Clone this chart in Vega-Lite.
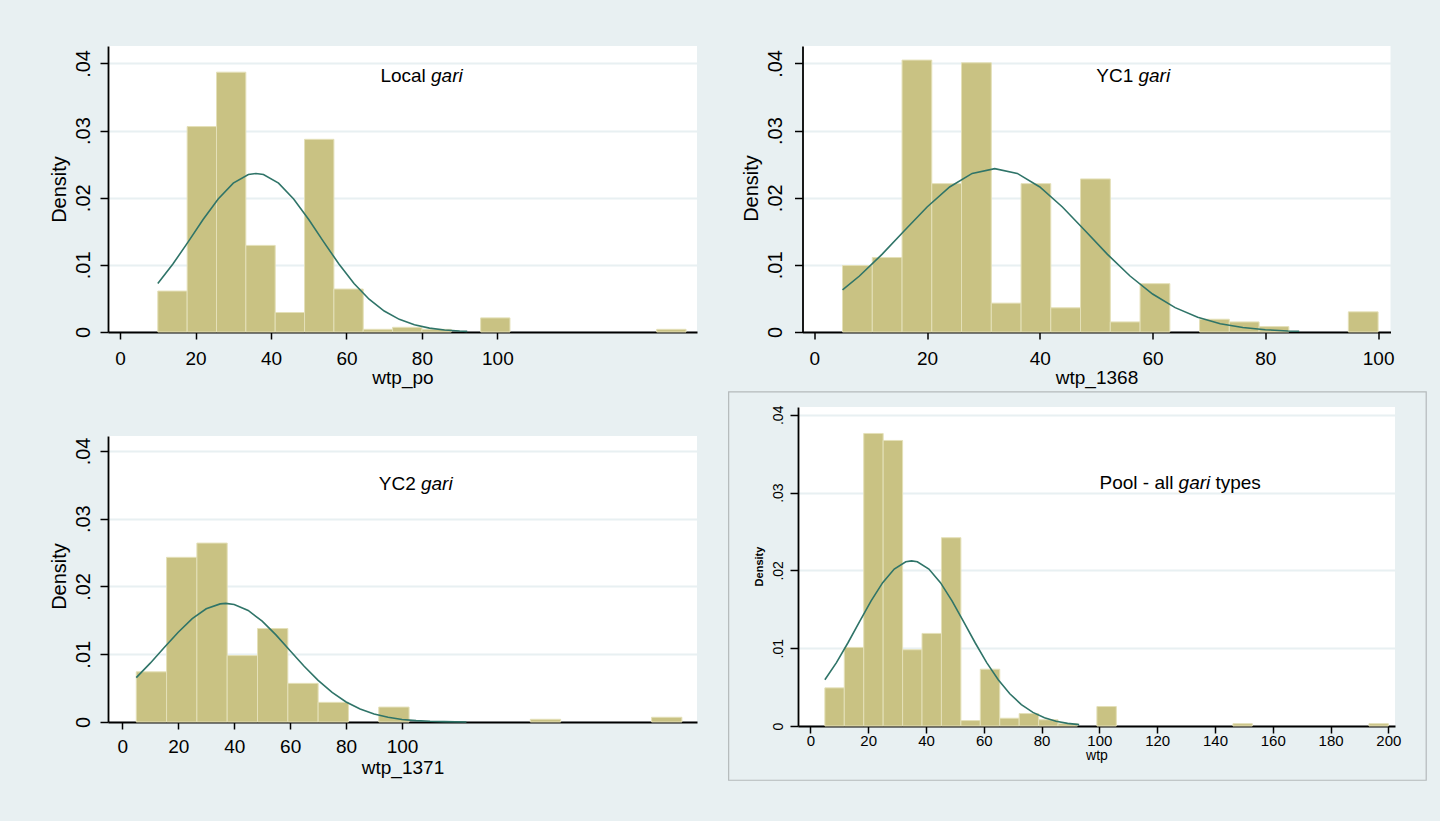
{
  "$schema": "https://vega.github.io/schema/vega-lite/v6.json",
  "background": "#e8f0f2",
  "padding": {"left": 49, "top": 46, "right": 13, "bottom": 40},
  "config": {
    "font": "Liberation Sans",
    "view": {"stroke": null, "fill": "#ffffff"},
    "axis": {
      "domainColor": "#000000", "domainWidth": 1.8,
      "tickColor": "#000000", "tickWidth": 1.5,
      "labelColor": "#000000", "titleColor": "#000000",
      "labelFont": "Liberation Sans", "titleFont": "Liberation Sans",
      "titleFontWeight": "normal",
      "gridColor": "#e8f0f2", "gridWidth": 2,
      "labelOverlap": false, "labelFlush": false
    },
    "axisX": {"grid": false, "zindex": 1},
    "text": {"font": "Liberation Sans", "fontSize": 19, "baseline": "alphabetic", "color": "#000000"}
  },
  "datasets": {
    "note": [{}],
    "bars": [
      {"panel": "wtp_po", "lo": 10, "hi": 17.78, "density": 0.0061},
      {"panel": "wtp_po", "lo": 17.78, "hi": 25.56, "density": 0.0306},
      {"panel": "wtp_po", "lo": 25.56, "hi": 33.33, "density": 0.0387},
      {"panel": "wtp_po", "lo": 33.33, "hi": 41.11, "density": 0.0129},
      {"panel": "wtp_po", "lo": 41.11, "hi": 48.89, "density": 0.0029},
      {"panel": "wtp_po", "lo": 48.89, "hi": 56.67, "density": 0.0287},
      {"panel": "wtp_po", "lo": 56.67, "hi": 64.44, "density": 0.0064},
      {"panel": "wtp_po", "lo": 64.44, "hi": 72.22, "density": 0.0004},
      {"panel": "wtp_po", "lo": 72.22, "hi": 80, "density": 0.0007},
      {"panel": "wtp_po", "lo": 80, "hi": 87.78, "density": 0.0004},
      {"panel": "wtp_po", "lo": 95.56, "hi": 103.33, "density": 0.0021},
      {"panel": "wtp_po", "lo": 142.22, "hi": 150, "density": 0.0004},

      {"panel": "wtp_1368", "lo": 5, "hi": 10.28, "density": 0.0099},
      {"panel": "wtp_1368", "lo": 10.28, "hi": 15.56, "density": 0.0111},
      {"panel": "wtp_1368", "lo": 15.56, "hi": 20.83, "density": 0.0405},
      {"panel": "wtp_1368", "lo": 20.83, "hi": 26.11, "density": 0.0221},
      {"panel": "wtp_1368", "lo": 26.11, "hi": 31.39, "density": 0.0401},
      {"panel": "wtp_1368", "lo": 31.39, "hi": 36.67, "density": 0.0043},
      {"panel": "wtp_1368", "lo": 36.67, "hi": 41.94, "density": 0.0221},
      {"panel": "wtp_1368", "lo": 41.94, "hi": 47.22, "density": 0.0036},
      {"panel": "wtp_1368", "lo": 47.22, "hi": 52.5, "density": 0.0228},
      {"panel": "wtp_1368", "lo": 52.5, "hi": 57.78, "density": 0.0015},
      {"panel": "wtp_1368", "lo": 57.78, "hi": 63.06, "density": 0.0072},
      {"panel": "wtp_1368", "lo": 68.33, "hi": 73.61, "density": 0.0019},
      {"panel": "wtp_1368", "lo": 73.61, "hi": 78.89, "density": 0.0015},
      {"panel": "wtp_1368", "lo": 78.89, "hi": 84.17, "density": 0.0008},
      {"panel": "wtp_1368", "lo": 94.72, "hi": 100, "density": 0.003},

      {"panel": "wtp_1371", "lo": 5, "hi": 15.83, "density": 0.0074},
      {"panel": "wtp_1371", "lo": 15.83, "hi": 26.67, "density": 0.0243},
      {"panel": "wtp_1371", "lo": 26.67, "hi": 37.5, "density": 0.0264},
      {"panel": "wtp_1371", "lo": 37.5, "hi": 48.33, "density": 0.0098},
      {"panel": "wtp_1371", "lo": 48.33, "hi": 59.17, "density": 0.0138},
      {"panel": "wtp_1371", "lo": 59.17, "hi": 70, "density": 0.0057},
      {"panel": "wtp_1371", "lo": 70, "hi": 80.83, "density": 0.0029},
      {"panel": "wtp_1371", "lo": 91.67, "hi": 102.5, "density": 0.0022},
      {"panel": "wtp_1371", "lo": 145.83, "hi": 156.67, "density": 0.0004},
      {"panel": "wtp_1371", "lo": 189.17, "hi": 200, "density": 0.0007},

      {"panel": "wtp", "lo": 5, "hi": 11.72, "density": 0.0049},
      {"panel": "wtp", "lo": 11.72, "hi": 18.45, "density": 0.0101},
      {"panel": "wtp", "lo": 18.45, "hi": 25.17, "density": 0.0376},
      {"panel": "wtp", "lo": 25.17, "hi": 31.9, "density": 0.0367},
      {"panel": "wtp", "lo": 31.9, "hi": 38.62, "density": 0.0098},
      {"panel": "wtp", "lo": 38.62, "hi": 45.34, "density": 0.0119},
      {"panel": "wtp", "lo": 45.34, "hi": 52.07, "density": 0.0242},
      {"panel": "wtp", "lo": 52.07, "hi": 58.79, "density": 0.0007},
      {"panel": "wtp", "lo": 58.79, "hi": 65.52, "density": 0.0073},
      {"panel": "wtp", "lo": 65.52, "hi": 72.24, "density": 0.001},
      {"panel": "wtp", "lo": 72.24, "hi": 78.97, "density": 0.0016},
      {"panel": "wtp", "lo": 78.97, "hi": 85.69, "density": 0.0008},
      {"panel": "wtp", "lo": 85.69, "hi": 92.41, "density": 0.0003},
      {"panel": "wtp", "lo": 99.14, "hi": 105.86, "density": 0.0025},
      {"panel": "wtp", "lo": 146.21, "hi": 152.93, "density": 0.0003},
      {"panel": "wtp", "lo": 193.28, "hi": 200, "density": 0.0003}
    ],
    "curve": [
      {"panel": "wtp_po", "x": 10, "y": 0.00723},
      {"panel": "wtp_po", "x": 14, "y": 0.01012},
      {"panel": "wtp_po", "x": 18, "y": 0.01339},
      {"panel": "wtp_po", "x": 22, "y": 0.01675},
      {"panel": "wtp_po", "x": 26, "y": 0.01982},
      {"panel": "wtp_po", "x": 30, "y": 0.02217},
      {"panel": "wtp_po", "x": 34, "y": 0.02345},
      {"panel": "wtp_po", "x": 36, "y": 0.02361},
      {"panel": "wtp_po", "x": 38, "y": 0.02345},
      {"panel": "wtp_po", "x": 42, "y": 0.02217},
      {"panel": "wtp_po", "x": 46, "y": 0.01982},
      {"panel": "wtp_po", "x": 50, "y": 0.01675},
      {"panel": "wtp_po", "x": 54, "y": 0.01339},
      {"panel": "wtp_po", "x": 58, "y": 0.01012},
      {"panel": "wtp_po", "x": 62, "y": 0.00723},
      {"panel": "wtp_po", "x": 66, "y": 0.00488},
      {"panel": "wtp_po", "x": 70, "y": 0.00312},
      {"panel": "wtp_po", "x": 74, "y": 0.00188},
      {"panel": "wtp_po", "x": 78, "y": 0.00108},
      {"panel": "wtp_po", "x": 82, "y": 0.00058},
      {"panel": "wtp_po", "x": 86, "y": 0.0003},
      {"panel": "wtp_po", "x": 90, "y": 0.00014},
      {"panel": "wtp_po", "x": 92, "y": 0.0001},

      {"panel": "wtp_1368", "x": 5, "y": 0.00627},
      {"panel": "wtp_1368", "x": 8, "y": 0.00834},
      {"panel": "wtp_1368", "x": 12, "y": 0.01157},
      {"panel": "wtp_1368", "x": 16, "y": 0.01512},
      {"panel": "wtp_1368", "x": 20, "y": 0.01862},
      {"panel": "wtp_1368", "x": 24, "y": 0.0216},
      {"panel": "wtp_1368", "x": 28, "y": 0.02362},
      {"panel": "wtp_1368", "x": 32, "y": 0.02433},
      {"panel": "wtp_1368", "x": 36, "y": 0.02362},
      {"panel": "wtp_1368", "x": 40, "y": 0.0216},
      {"panel": "wtp_1368", "x": 44, "y": 0.01862},
      {"panel": "wtp_1368", "x": 48, "y": 0.01512},
      {"panel": "wtp_1368", "x": 52, "y": 0.01157},
      {"panel": "wtp_1368", "x": 56, "y": 0.00834},
      {"panel": "wtp_1368", "x": 60, "y": 0.00566},
      {"panel": "wtp_1368", "x": 64, "y": 0.00363},
      {"panel": "wtp_1368", "x": 68, "y": 0.00219},
      {"panel": "wtp_1368", "x": 72, "y": 0.00124},
      {"panel": "wtp_1368", "x": 76, "y": 0.00066},
      {"panel": "wtp_1368", "x": 80, "y": 0.00034},
      {"panel": "wtp_1368", "x": 84, "y": 0.00016},
      {"panel": "wtp_1368", "x": 86, "y": 0.00011},

      {"panel": "wtp_1371", "x": 5, "y": 0.00654},
      {"panel": "wtp_1371", "x": 10, "y": 0.00868},
      {"panel": "wtp_1371", "x": 15, "y": 0.01099},
      {"panel": "wtp_1371", "x": 20, "y": 0.01325},
      {"panel": "wtp_1371", "x": 25, "y": 0.01524},
      {"panel": "wtp_1371", "x": 30, "y": 0.0167},
      {"panel": "wtp_1371", "x": 35, "y": 0.01743},
      {"panel": "wtp_1371", "x": 37, "y": 0.0175},
      {"panel": "wtp_1371", "x": 40, "y": 0.01735},
      {"panel": "wtp_1371", "x": 45, "y": 0.01646},
      {"panel": "wtp_1371", "x": 50, "y": 0.01488},
      {"panel": "wtp_1371", "x": 55, "y": 0.01282},
      {"panel": "wtp_1371", "x": 60, "y": 0.01052},
      {"panel": "wtp_1371", "x": 65, "y": 0.00823},
      {"panel": "wtp_1371", "x": 70, "y": 0.00614},
      {"panel": "wtp_1371", "x": 75, "y": 0.00436},
      {"panel": "wtp_1371", "x": 80, "y": 0.00296},
      {"panel": "wtp_1371", "x": 85, "y": 0.00191},
      {"panel": "wtp_1371", "x": 90, "y": 0.00117},
      {"panel": "wtp_1371", "x": 95, "y": 0.00069},
      {"panel": "wtp_1371", "x": 100, "y": 0.00038},
      {"panel": "wtp_1371", "x": 105, "y": 0.0002},
      {"panel": "wtp_1371", "x": 110, "y": 0.0001},
      {"panel": "wtp_1371", "x": 115, "y": 0.00005},
      {"panel": "wtp_1371", "x": 123, "y": 0.00001},

      {"panel": "wtp", "x": 5, "y": 0.00594},
      {"panel": "wtp", "x": 9, "y": 0.00815},
      {"panel": "wtp", "x": 13, "y": 0.0107},
      {"panel": "wtp", "x": 17, "y": 0.01342},
      {"panel": "wtp", "x": 21, "y": 0.01608},
      {"panel": "wtp", "x": 25, "y": 0.01842},
      {"panel": "wtp", "x": 29, "y": 0.02017},
      {"panel": "wtp", "x": 33, "y": 0.0211},
      {"panel": "wtp", "x": 35, "y": 0.02122},
      {"panel": "wtp", "x": 37, "y": 0.0211},
      {"panel": "wtp", "x": 41, "y": 0.02017},
      {"panel": "wtp", "x": 45, "y": 0.01842},
      {"panel": "wtp", "x": 49, "y": 0.01608},
      {"panel": "wtp", "x": 53, "y": 0.01342},
      {"panel": "wtp", "x": 57, "y": 0.0107},
      {"panel": "wtp", "x": 61, "y": 0.00815},
      {"panel": "wtp", "x": 65, "y": 0.00594},
      {"panel": "wtp", "x": 69, "y": 0.00414},
      {"panel": "wtp", "x": 73, "y": 0.00275},
      {"panel": "wtp", "x": 77, "y": 0.00175},
      {"panel": "wtp", "x": 81, "y": 0.00106},
      {"panel": "wtp", "x": 85, "y": 0.00062},
      {"panel": "wtp", "x": 89, "y": 0.00034},
      {"panel": "wtp", "x": 93, "y": 0.00018}
    ]
  },
  "spacing": 31,
  "hconcat": [
    {
      "bounds": "flush",
      "spacing": 104,
      "vconcat": [
        {
          "width": 589,
          "height": 286,
          "layer": [
            {
              "data": {"name": "bars"},
              "transform": [{"filter": "datum.panel === 'wtp_po'"}],
              "mark": {"type": "rect", "fill": "#c9c283", "stroke": "#e4e0b8", "strokeWidth": 1},
              "encoding": {
                "x": {
                  "field": "lo", "type": "quantitative", "title": "wtp_po",
                  "scale": {"domain": [-3.2, 152.9], "nice": false, "zero": false},
                  "axis": {"values": [0, 20, 40, 60, 80, 100], "format": "d", "tickSize": 7, "labelPadding": 10, "labelFontSize": 19, "titleFontSize": 19, "titleBaseline": "alphabetic", "titleY": 51}
                },
                "x2": {"field": "hi"},
                "y": {
                  "field": "density", "type": "quantitative", "title": "Density",
                  "scale": {"domain": [0, 0.0426], "nice": false},
                  "axis": {"values": [0, 0.01, 0.02, 0.03, 0.04], "labelExpr": "datum.value === 0 ? '0' : substring(format(datum.value, '.2f'), 1)", "tickSize": 8, "labelAngle": 270, "labelAlign": "center", "labelBaseline": "alphabetic", "labelPadding": 10.5, "labelFontSize": 20, "titleFontSize": 20, "titleAngle": 270, "titleAlign": "center", "titleBaseline": "alphabetic", "titleX": -43, "titleY": 143, "grid": true}
                },
                "y2": {"datum": 0}
              }
            },
            {
              "data": {"name": "curve"},
              "transform": [{"filter": "datum.panel === 'wtp_po'"}],
              "mark": {"type": "line", "color": "#2f7468", "strokeWidth": 1.6},
              "encoding": {
                "x": {"field": "x", "type": "quantitative", "title": "wtp_po"},
                "y": {"field": "y", "type": "quantitative", "title": "Density"}
              }
            },
            {
              "data": {"name": "note"},
              "mark": {"type": "text", "align": "right", "dx": -21},
              "encoding": {"x": {"datum": 86.6, "type": "quantitative"}, "y": {"datum": 0.0372, "type": "quantitative"}, "text": {"value": "Local"}}
            },
            {
              "data": {"name": "note"},
              "mark": {"type": "text", "align": "center", "fontStyle": "italic"},
              "encoding": {"x": {"datum": 86.6, "type": "quantitative"}, "y": {"datum": 0.0372, "type": "quantitative"}, "text": {"value": "gari"}}
            }
          ]
        },
        {
          "width": 589,
          "height": 286,
          "layer": [
            {
              "data": {"name": "bars"},
              "transform": [{"filter": "datum.panel === 'wtp_1371'"}],
              "mark": {"type": "rect", "fill": "#c9c283", "stroke": "#e4e0b8", "strokeWidth": 1},
              "encoding": {
                "x": {
                  "field": "lo", "type": "quantitative", "title": "wtp_1371",
                  "scale": {"domain": [-5.1, 205.4], "nice": false, "zero": false},
                  "axis": {"values": [0, 20, 40, 60, 80, 100], "format": "d", "tickSize": 7, "labelPadding": 8, "labelFontSize": 19, "titleFontSize": 19, "titleBaseline": "alphabetic", "titleY": 51}
                },
                "x2": {"field": "hi"},
                "y": {
                  "field": "density", "type": "quantitative", "title": "Density",
                  "scale": {"domain": [0, 0.0422], "nice": false},
                  "axis": {"values": [0, 0.01, 0.02, 0.03, 0.04], "labelExpr": "datum.value === 0 ? '0' : substring(format(datum.value, '.2f'), 1)", "tickSize": 8, "labelAngle": 270, "labelAlign": "center", "labelBaseline": "alphabetic", "labelPadding": 10.5, "labelFontSize": 20, "titleFontSize": 20, "titleAngle": 270, "titleAlign": "center", "titleBaseline": "alphabetic", "titleX": -43, "titleY": 140, "grid": true}
                },
                "y2": {"datum": 0}
              }
            },
            {
              "data": {"name": "curve"},
              "transform": [{"filter": "datum.panel === 'wtp_1371'"}],
              "mark": {"type": "line", "color": "#2f7468", "strokeWidth": 1.6},
              "encoding": {
                "x": {"field": "x", "type": "quantitative", "title": "wtp_1371"},
                "y": {"field": "y", "type": "quantitative", "title": "Density"}
              }
            },
            {
              "data": {"name": "note"},
              "mark": {"type": "text", "align": "right", "dx": -21},
              "encoding": {"x": {"datum": 112.4, "type": "quantitative"}, "y": {"datum": 0.0342, "type": "quantitative"}, "text": {"value": "YC2"}}
            },
            {
              "data": {"name": "note"},
              "mark": {"type": "text", "align": "center", "fontStyle": "italic"},
              "encoding": {"x": {"datum": 112.4, "type": "quantitative"}, "y": {"datum": 0.0342, "type": "quantitative"}, "text": {"value": "gari"}}
            }
          ]
        }
      ]
    },
    {
      "bounds": "flush",
      "spacing": 75,
      "center": true,
      "vconcat": [
        {
          "width": 588,
          "height": 286,
          "layer": [
            {
              "data": {"name": "bars"},
              "transform": [{"filter": "datum.panel === 'wtp_1368'"}],
              "mark": {"type": "rect", "fill": "#c9c283", "stroke": "#e4e0b8", "strokeWidth": 1},
              "encoding": {
                "x": {
                  "field": "lo", "type": "quantitative", "title": "wtp_1368",
                  "scale": {"domain": [-2.1, 102.2], "nice": false, "zero": false},
                  "axis": {"values": [0, 20, 40, 60, 80, 100], "format": "d", "tickSize": 7, "labelPadding": 10, "labelFontSize": 19, "titleFontSize": 19, "titleBaseline": "alphabetic", "titleY": 51}
                },
                "x2": {"field": "hi"},
                "y": {
                  "field": "density", "type": "quantitative", "title": "Density",
                  "scale": {"domain": [0, 0.0426], "nice": false},
                  "axis": {"values": [0, 0.01, 0.02, 0.03, 0.04], "labelExpr": "datum.value === 0 ? '0' : substring(format(datum.value, '.2f'), 1)", "tickSize": 8, "labelAngle": 270, "labelAlign": "center", "labelBaseline": "alphabetic", "labelPadding": 13.5, "labelFontSize": 20, "titleFontSize": 20, "titleAngle": 270, "titleAlign": "center", "titleBaseline": "alphabetic", "titleX": -45, "titleY": 142, "grid": true}
                },
                "y2": {"datum": 0}
              }
            },
            {
              "data": {"name": "curve"},
              "transform": [{"filter": "datum.panel === 'wtp_1368'"}],
              "mark": {"type": "line", "color": "#2f7468", "strokeWidth": 1.6},
              "encoding": {
                "x": {"field": "x", "type": "quantitative", "title": "wtp_1368"},
                "y": {"field": "y", "type": "quantitative", "title": "Density"}
              }
            },
            {
              "data": {"name": "note"},
              "mark": {"type": "text", "align": "right", "dx": -21},
              "encoding": {"x": {"datum": 60.3, "type": "quantitative"}, "y": {"datum": 0.0372, "type": "quantitative"}, "text": {"value": "YC1"}}
            },
            {
              "data": {"name": "note"},
              "mark": {"type": "text", "align": "center", "fontStyle": "italic"},
              "encoding": {"x": {"datum": 60.3, "type": "quantitative"}, "y": {"datum": 0.0372, "type": "quantitative"}, "text": {"value": "gari"}}
            }
          ]
        },
        {
          "width": 597,
          "height": 319,
          "layer": [
            {
              "data": {"name": "bars"},
              "transform": [{"filter": "datum.panel === 'wtp'"}],
              "mark": {"type": "rect", "fill": "#c9c283", "stroke": "#e4e0b8", "strokeWidth": 1},
              "encoding": {
                "x": {
                  "field": "lo", "type": "quantitative", "title": "wtp",
                  "scale": {"domain": [-4.3, 202.3], "nice": false, "zero": false},
                  "axis": {"values": [0, 20, 40, 60, 80, 100, 120, 140, 160, 180, 200], "format": "d", "tickSize": 7, "labelPadding": 0, "labelFontSize": 15, "titleFontSize": 14, "titleBaseline": "alphabetic", "titleY": 33}
                },
                "x2": {"field": "hi"},
                "y": {
                  "field": "density", "type": "quantitative", "title": "Density",
                  "scale": {"domain": [0, 0.041], "nice": false},
                  "axis": {"values": [0, 0.01, 0.02, 0.03, 0.04], "labelExpr": "datum.value === 0 ? '0' : substring(format(datum.value, '.2f'), 1)", "tickSize": 8, "labelAngle": 270, "labelAlign": "center", "labelBaseline": "alphabetic", "labelPadding": 8, "labelFontSize": 14, "titleFontSize": 11, "titleFontWeight": "bold", "titleAngle": 270, "titleAlign": "center", "titleBaseline": "alphabetic", "titleX": -36, "titleY": 159, "grid": true}
                },
                "y2": {"datum": 0}
              }
            },
            {
              "data": {"name": "curve"},
              "transform": [{"filter": "datum.panel === 'wtp'"}],
              "mark": {"type": "line", "color": "#2f7468", "strokeWidth": 1.6},
              "encoding": {
                "x": {"field": "x", "type": "quantitative", "title": "wtp"},
                "y": {"field": "y", "type": "quantitative", "title": "Density"}
              }
            },
            {
              "data": {"name": "note"},
              "mark": {"type": "text", "align": "right", "dx": -21},
              "encoding": {"x": {"datum": 132.9, "type": "quantitative"}, "y": {"datum": 0.0305, "type": "quantitative"}, "text": {"value": "Pool - all"}}
            },
            {
              "data": {"name": "note"},
              "mark": {"type": "text", "align": "center", "fontStyle": "italic"},
              "encoding": {"x": {"datum": 132.9, "type": "quantitative"}, "y": {"datum": 0.0305, "type": "quantitative"}, "text": {"value": "gari"}}
            },
            {
              "data": {"name": "note"},
              "mark": {"type": "text", "align": "left", "dx": 21},
              "encoding": {"x": {"datum": 132.9, "type": "quantitative"}, "y": {"datum": 0.0305, "type": "quantitative"}, "text": {"value": "types"}}
            },
            {
              "data": {"name": "note"},
              "mark": {"type": "rect", "filled": false, "stroke": "#b4b9bb", "strokeWidth": 1.2, "clip": false},
              "encoding": {
                "x": {"datum": -28.3, "type": "quantitative"},
                "x2": {"datum": 213.1},
                "y": {"datum": 0.04295, "type": "quantitative"},
                "y2": {"datum": -0.00697}
              }
            }
          ]
        }
      ]
    }
  ]
}
